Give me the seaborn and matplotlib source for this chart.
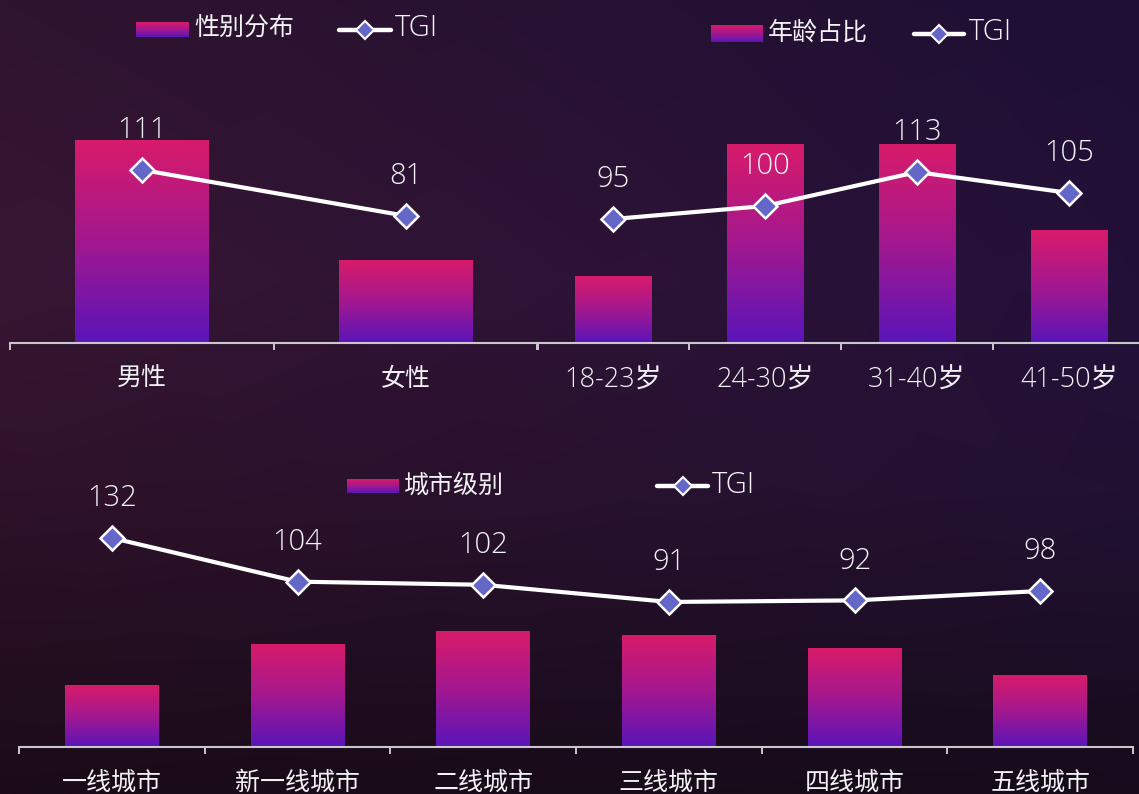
import numpy as np
import matplotlib
matplotlib.use("Agg")
import matplotlib.pyplot as plt
from matplotlib.lines import Line2D
from matplotlib.colors import LinearSegmentedColormap, to_rgb
import seaborn as sns

# ---- data ----
gender_labels = ["男性", "女性"]
gender_share = [71.1, 28.9]
gender_tgi = [111, 81]

age_labels = ["18-23岁", "24-30岁", "31-40岁", "41-50岁"]
age_share = [10.0, 30.0, 30.0, 17.0]
age_tgi = [95, 100, 113, 105]

city_labels = ["一线城市", "新一线城市", "二线城市", "三线城市", "四线城市", "五线城市"]
city_share = [10.9, 18.3, 20.6, 19.8, 17.6, 12.8]
city_tgi = [132, 104, 102, 91, 92, 98]

# ---- style ----
W, H, DPI = 1139, 794, 100
TEXT = "#f2f2f4"
AXIS = "#c9c7cc"
MARKER_FACE = "#6466c8"

sns.set_theme(style="white")
plt.rcParams["font.family"] = ["Open Sans", "Noto Sans CJK SC", "DejaVu Sans"]
plt.rcParams["font.weight"] = "light"

bar_cmap = LinearSegmentedColormap.from_list(
    "bar", [(0.0, "#5a15b9"), (0.5, "#a3188f"), (1.0, "#d81b6a")])
GRAD = np.linspace(1, 0, 256).reshape(-1, 1)

fig = plt.figure(figsize=(W / DPI, H / DPI), dpi=DPI)


def hex_rows(colors):
    return np.array([to_rgb(c) for c in colors])


# ---- background ----
rows_y = [0.0, 0.35, 0.62, 1.0]
left_cols = hex_rows(["#2f142f", "#371633", "#2e1229", "#1b0b18"])
right_cols = hex_rows(["#1e0f35", "#231039", "#221133", "#160b1b"])
ny, nx = 200, 200
yy = np.linspace(0, 1, ny)
xx = np.linspace(0, 1, nx)
left = np.stack([np.interp(yy, rows_y, left_cols[:, k]) for k in range(3)], axis=1)
right = np.stack([np.interp(yy, rows_y, right_cols[:, k]) for k in range(3)], axis=1)
img = left[:, None, :] * (1 - xx[None, :, None]) + right[:, None, :] * xx[None, :, None]
bg = fig.add_axes([0, 0, 1, 1], zorder=-10)
bg.imshow(img, aspect="auto", extent=[0, 1, 0, 1], origin="upper", interpolation="bilinear")
bg.set_axis_off()


def axpos(l, r, base, top):
    return [l / W, 1 - base / H, (r - l) / W, (base - top) / H]


def panel(rect, labels, share, tgi, bar_lim, line_lim, label_size=18):
    n = len(labels)
    ax = fig.add_axes(rect)
    ax.set_facecolor("none")
    sns.barplot(x=labels, y=share, ax=ax, width=0.505, color="#d81b6a",
                saturation=1, order=labels)
    # replace solid fills with a vertical pink-to-purple gradient
    for p in list(ax.patches):
        x0, y0 = p.get_x(), p.get_y()
        w, h = p.get_width(), p.get_height()
        p.set_facecolor("none")
        p.set_edgecolor("none")
        ax.imshow(GRAD, cmap=bar_cmap, vmin=0, vmax=1, aspect="auto",
                  extent=[x0, x0 + w, y0, y0 + h], origin="upper",
                  interpolation="bilinear", zorder=2)
    ax.set_xlim(-0.5, n - 0.5)
    ax.set_ylim(*bar_lim)
    ax.set_yticks([])
    ax.set_ylabel("")
    ax.set_xlabel("")
    for s in ["top", "right", "left"]:
        ax.spines[s].set_visible(False)
    ax.spines["bottom"].set_color(AXIS)
    ax.spines["bottom"].set_linewidth(1.5)
    ax.set_xticks(range(n))
    ax.set_xticklabels(labels)
    ax.set_xticks(np.arange(-0.5, n), minor=True)
    ax.tick_params(axis="x", which="major", length=0, pad=17,
                   labelsize=label_size, labelcolor=TEXT)
    ax.tick_params(axis="x", which="minor", length=5, width=1.4,
                   color=AXIS, direction="out", bottom=True)

    ax2 = ax.twinx()
    ax2.set_facecolor("none")
    sns.lineplot(x=np.arange(n), y=tgi, ax=ax2, color="white", lw=3,
                 marker="D", markersize=12, markerfacecolor=MARKER_FACE,
                 markeredgecolor="white", markeredgewidth=1.8, sort=False,
                 legend=False, zorder=5)
    ax2.set_ylim(*line_lim)
    ax2.set_xlim(-0.5, n - 0.5)
    ax2.set_yticks([])
    ax2.set_ylabel("")
    for s in ax2.spines.values():
        s.set_visible(False)
    for i, v in enumerate(tgi):
        ax2.annotate(str(v), (i, v), xytext=(0, 28.5), textcoords="offset points",
                     ha="center", va="center", fontsize=21, color=TEXT)
    return ax, ax2


panel(axpos(10, 538, 343, 111), gender_labels, gender_share, gender_tgi,
      (0, 81.3), (-1.9, 149.4))
panel(axpos(537, 1145, 343, 111), age_labels, age_share, age_tgi,
      (0, 35), (47.5, 136.4), label_size=19.5)
panel(axpos(19, 1133, 747, 500), city_labels, city_share, city_tgi,
      (0, 43.95), (-1.9, 156.3))


# ---- legends ----
def legend_patch(x0, x1, y0, y1):
    lax = fig.add_axes([x0 / W, 1 - y1 / H, (x1 - x0) / W, (y1 - y0) / H])
    lax.imshow(GRAD, cmap=bar_cmap, vmin=0, vmax=1, aspect="auto",
               extent=[0, 1, 0, 1], origin="upper")
    lax.set_axis_off()


def legend_line(x0, x1, y):
    fy = 1 - y / H
    fig.add_artist(Line2D([x0 / W, x1 / W], [fy, fy], transform=fig.transFigure,
                          color="white", lw=3.2, solid_capstyle="round"))
    fig.add_artist(Line2D([(x0 + x1) / 2 / W], [fy], transform=fig.transFigure,
                          marker="D", ms=9.5, mfc=MARKER_FACE, mec="white",
                          mew=1.5, ls="none"))


def legend_text(x, y, s, size=18):
    fig.text(x / W, 1 - y / H, s, ha="left", va="center", fontsize=size, color=TEXT)


legend_patch(136, 189, 22, 37)
legend_text(194, 29, "性别分布")
legend_line(339, 391, 30)
legend_text(395, 28, "TGI", 21)

legend_patch(711, 763, 25, 42)
legend_text(768, 33, "年龄占比")
legend_line(914, 964, 34)
legend_text(969, 32, "TGI", 21)

legend_patch(347, 399, 479, 493)
legend_text(404, 486, "城市级别")
legend_line(657, 708, 486)
legend_text(712, 485, "TGI", 21)

fig.savefig("out.png", dpi=DPI)
